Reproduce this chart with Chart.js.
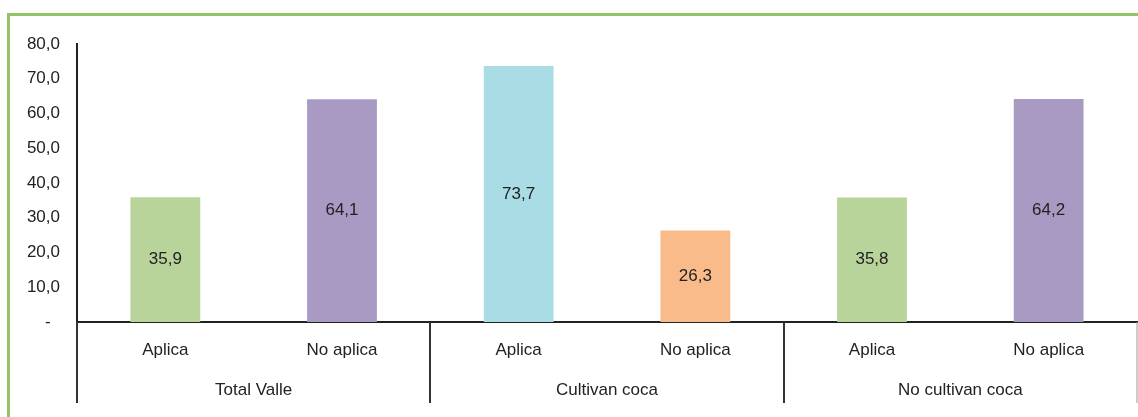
<!DOCTYPE html>
<html>
<head>
<meta charset="utf-8">
<script src="https://cdn.jsdelivr.net/npm/chart.js@4/dist/chart.umd.min.js"></script>
<style>
  body { margin: 0; background: #fff; }
  #wrap { position: relative; width: 1138px; height: 417px; }
  #frame { position: absolute; left: 7px; top: 13px; width: 1200px; height: 500px;
           border-top: 3px solid #93c466; border-left: 3px solid #93c466; pointer-events: none; }
</style>
</head>
<body>
<div id="wrap">
  <canvas id="chart"></canvas>
  <div id="frame"></div>
</div>
<script>
const categories = ["Aplica", "No aplica", "Aplica", "No aplica", "Aplica", "No aplica"]
const groups = ["Total Valle", "Cultivan coca", "No cultivan coca"]
const values = [35.9, 64.1, 73.7, 26.3, 35.8, 64.2]
const barColors = ["#b9d49a", "#a99ac3", "#a9dce5", "#fabb8b", "#b9d49a", "#a99ac3"]

const FONT = "'Liberation Sans', Arial, sans-serif"
const fmt = v => v.toFixed(1).replace('.', ',')

const groupPlugin = {
  id: 'groups',
  afterDatasetsDraw(chart) {
    const ctx = chart.ctx
    const x = chart.scales.x
    const area = chart.chartArea
    // value labels inside bars
    const meta = chart.getDatasetMeta(0)
    ctx.save()
    ctx.font = "17px " + FONT
    ctx.fillStyle = "#222"
    ctx.textAlign = "center"
    ctx.textBaseline = "middle"
    meta.data.forEach((bar, i) => {
      ctx.fillText(fmt(values[i]), bar.x, (bar.y + bar.base) / 2)
    })
    ctx.restore()
  },
  afterDraw(chart) {
    const ctx = chart.ctx
    const x = chart.scales.x
    const area = chart.chartArea
    ctx.save()
    ctx.strokeStyle = "#333"
    ctx.lineWidth = 2
    const bounds = [area.left]
    for (let g = 1; g < groups.length; g++) {
      bounds.push((x.getPixelForValue(2 * g - 1) + x.getPixelForValue(2 * g)) / 2)
    }
    bounds.push(area.right)
    bounds.forEach((bx, i) => {
      ctx.beginPath()
      ctx.lineWidth = i === bounds.length - 1 ? 1 : 2
      ctx.strokeStyle = i === bounds.length - 1 ? "#999" : "#333"
      ctx.moveTo(Math.round(bx), area.bottom)
      ctx.lineTo(Math.round(bx), 403)
      ctx.stroke()
    })
    ctx.font = "17px " + FONT
    ctx.fillStyle = "#222"
    ctx.textAlign = "center"
    ctx.textBaseline = "middle"
    groups.forEach((g, i) => {
      const cx = (x.getPixelForValue(2 * i) + x.getPixelForValue(2 * i + 1)) / 2
      ctx.fillText(g, cx, 390)
    })
    ctx.restore()
  }
}

new Chart(document.getElementById('chart'), {
  type: 'bar',
  data: {
    labels: categories,
    datasets: [{
      data: values,
      backgroundColor: barColors,
      barPercentage: 0.395,
      categoryPercentage: 1.0,
    }]
  },
  options: {
    responsive: true,
    maintainAspectRatio: false,
    animation: false,
    events: [],
    layout: { padding: { top: 44, right: 1, left: 0, bottom: 0 } },
    plugins: {
      legend: { display: false },
      tooltip: { enabled: false },
    },
    scales: {
      x: {
        grid: { display: false, drawTicks: false },
        border: { display: true, color: "#222", width: 2 },
        ticks: { color: "#222", padding: 18, font: { size: 17, family: FONT } },
        afterFit(scale) { scale.height = 95 }
      },
      y: {
        min: 0,
        max: 80,
        grid: { display: false, drawTicks: false },
        border: { display: true, color: "#222", width: 2 },
        ticks: {
          stepSize: 10,
          color: "#222",
          padding: 17,
          font: { size: 17, family: FONT },
          callback: v => v === 0 ? '-  ' : fmt(v)
        },
        afterFit(scale) { scale.width = 77 }
      }
    }
  },
  plugins: [groupPlugin]
})
</script>
</body>
</html>
